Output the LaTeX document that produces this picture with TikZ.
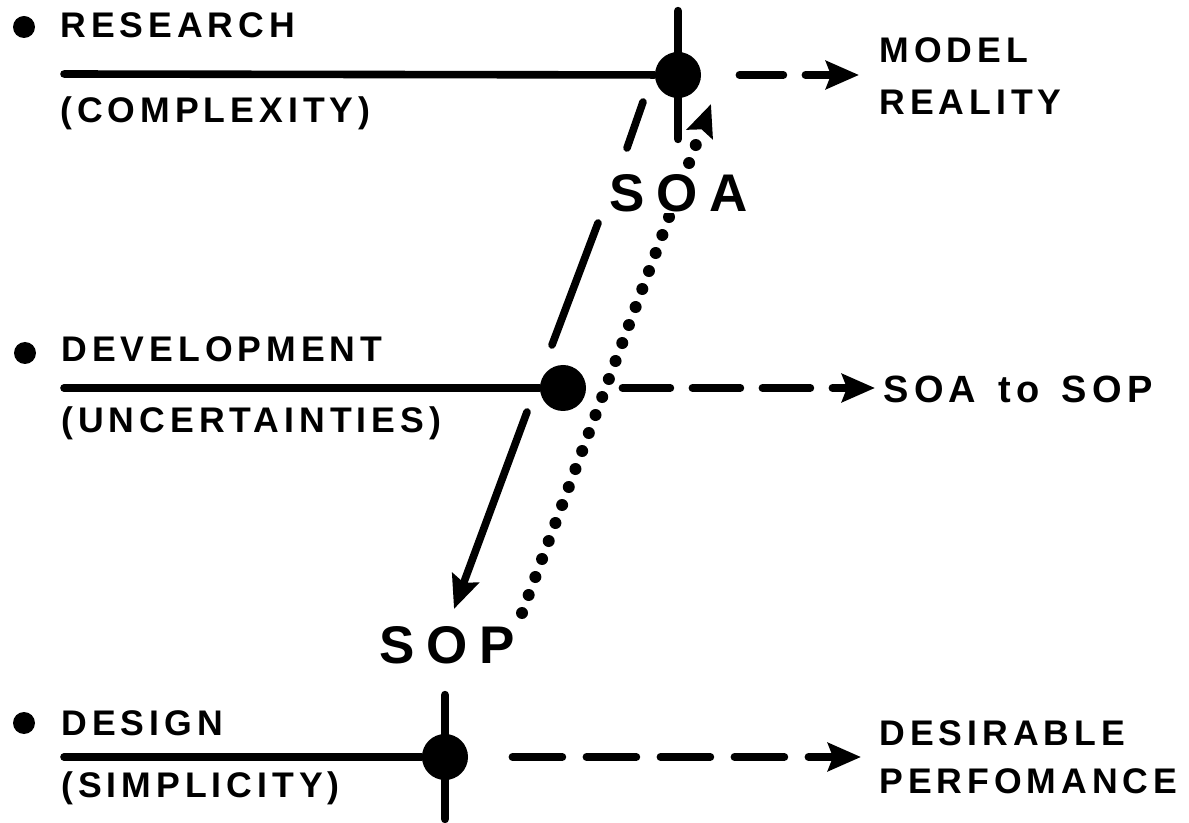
\documentclass[tikz,border=0pt]{standalone}
\usepackage{fontspec}
\setmainfont{Liberation Sans}[LetterSpace=14,BoldFont={Liberation Sans Bold}]
\newfontfamily\bigfont{Liberation Sans Bold}[LetterSpace=22]
\usetikzlibrary{arrows.meta}
\begin{document}
\begin{tikzpicture}[x=0.5pt,y=-0.5pt,
  lbl/.style={anchor=base west, inner sep=0pt, font=\fontsize{17.8pt}{20pt}\selectfont\bfseries},
  big/.style={anchor=base west, inner sep=0pt, font=\bigfont\fontsize{26.5pt}{30pt}\selectfont},
  bulletdot/.style={circle, fill=black, inner sep=0pt, minimum size=11pt},
  junction/.style={circle, fill=black, inner sep=0pt, minimum size=23pt},
  bar/.style={line width=3.8pt, line cap=round},
  vbar/.style={line width=4.2pt, line cap=round},
  tipshape/.style={-{Stealth[length=16.5pt,width=14pt,inset=2.5pt]}},
  dotline/.style={line width=6pt, line cap=round, dash pattern=on 0pt off 9.6pt, -{Stealth[length=16pt,width=13.5pt,inset=2.5pt]}},
]
\useasboundingbox (0,0) rectangle (1189,823);

% ---------- RESEARCH ----------
\node[bulletdot] (bR) at (24,27) {};
\node[lbl] (tR) at (60,38) {RESEARCH};
\node[lbl] (tRc) at (60,123) {(COMPLEXITY)};
\coordinate (lR) at (64,74);
\node[junction] (nR) at (678,75) {};
\coordinate (vRtop) at (678,11);
\coordinate (vRbot) at (678,139);
\coordinate (aR) at (859,75);
\draw[bar] (lR) -- (nR);
\draw[vbar] (vRtop) -- (vRbot);
\draw[bar, tipshape, dash pattern=on 22pt off 11pt, shorten <=19pt] (nR) -- (aR);
\node[lbl] (tM1) at (879,63) {MODEL};
\node[lbl] (tM2) at (879,115) {REALITY};

% ---------- DEVELOPMENT ----------
\node[bulletdot] (bD) at (25,353) {};
\node[lbl] (tD) at (61,362) {DEVELOPMENT};
\node[lbl] (tDc) at (61,433) {(UNCERTAINTIES)};
\coordinate (lD) at (64,388);
\node[junction] (nD) at (563,388) {};
\coordinate (aD) at (875,388);
\draw[bar] (lD) -- (nD);
\draw[bar, tipshape, dash pattern=on 24pt off 11pt, shorten <=18pt] (nD) -- (aD);
\node[lbl, font=\fontsize{19pt}{21pt}\selectfont\bfseries] (tSS) at (883,403) {SOA\hspace{11pt}to\hspace{11pt}SOP};

% ---------- DESIGN ----------
\node[bulletdot] (bG) at (24,723) {};
\node[lbl] (tG) at (61,735) {DESIGN};
\node[lbl] (tGc) at (61,797) {(SIMPLICITY)};
\coordinate (lG) at (64,757);
\node[junction] (nG) at (445,757) {};
\coordinate (vGtop) at (445,695);
\coordinate (vGbot) at (445,819);
\coordinate (aG) at (861,757);
\draw[bar] (lG) -- (nG);
\draw[vbar] (vGtop) -- (vGbot);
\draw[bar, tipshape, dash pattern=on 25pt off 12pt, shorten <=22pt] (nG) -- (aG);
\node[lbl] (tP1) at (879,745) {DESIRABLE};
\node[lbl] (tP2) at (879,793) {PERFOMANCE};

% ---------- SOA / SOP transitions ----------
\coordinate (s1a) at (643,102);
\coordinate (s1b) at (627,148);
\coordinate (s2a) at (598,223);
\coordinate (s2b) at (552,345);
\coordinate (s3a) at (527,412);
\coordinate (s3tip) at (454,609);
\draw[bar] (s1a) -- (s1b);
\draw[bar] (s2a) -- (s2b);
\draw[bar, tipshape] (s3a) -- (s3tip);

\coordinate (d0) at (522,613);
\coordinate (dtip) at (711,104);
\draw[dotline] (d0) -- (dtip);

\node[big, fill=white] (soa) at (609,212) {SOA};
\node[big] (sop) at (379,663) {SOP};
\end{tikzpicture}
\end{document}
